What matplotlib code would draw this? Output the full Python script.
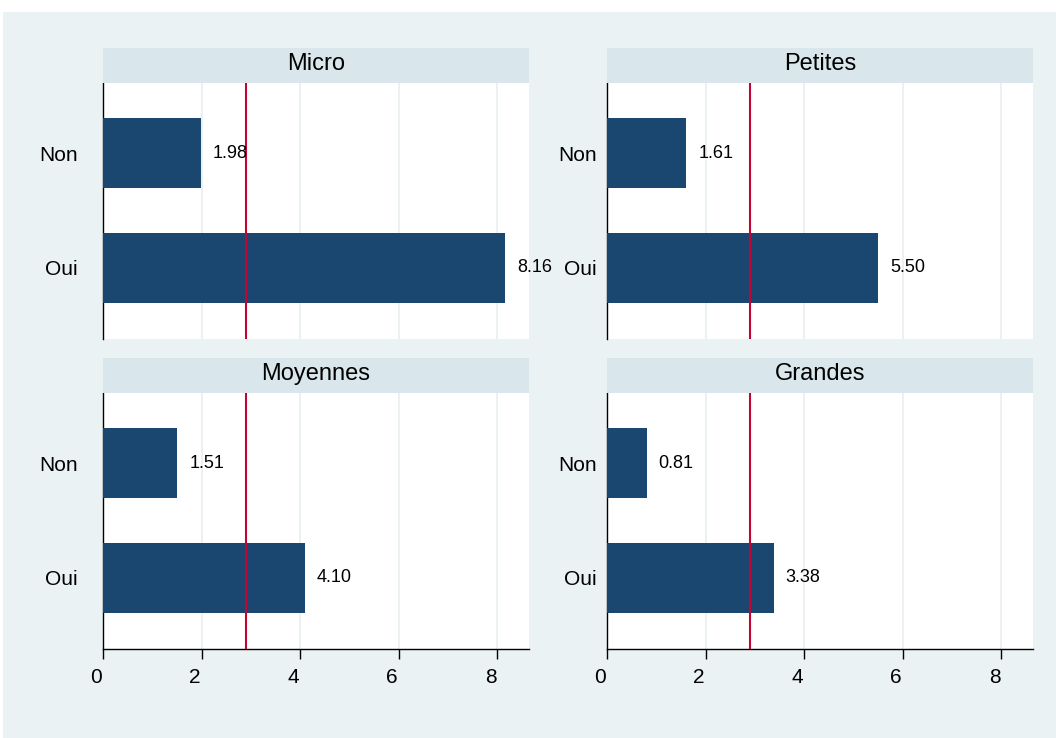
import matplotlib
matplotlib.use("Agg")
import matplotlib.pyplot as plt
from matplotlib.patches import Rectangle
from matplotlib.transforms import ScaledTranslation

plt.rcParams['font.family'] = ['Liberation Sans', 'DejaVu Sans']

panels = ["Micro", "Petites", "Moyennes", "Grandes"]
categories = ["Oui", "Non"]
values = {
    "Micro": [8.16, 1.98],
    "Petites": [5.50, 1.61],
    "Moyennes": [4.10, 1.51],
    "Grandes": [3.38, 0.81],
}
ref_line = 2.9
xticks = [0, 2, 4, 6, 8]

W, H = 1056, 738
fig = plt.figure(figsize=(W / 100, H / 100), dpi=100)
fig.patch.set_facecolor("white")
fig.add_artist(Rectangle((3 / W, 0), 1 - 3 / W, 1 - 12 / H, transform=fig.transFigure,
                         facecolor="#eaf2f3", edgecolor="none", zorder=0))

bar_color = "#1a476f"
red = "#c10534"
grid_color = "#e8eef1"
strip_color = "#d9e6eb"

cols = [(103, 529, 18), (607, 1033, 7.5)]
rows = [(83, 339, 48), (393, 649, 358)]

def box(x0, x1, y0, y1):
    return [x0 / W, 1 - y1 / H, (x1 - x0) / W, (y1 - y0) / H]

for i, name in enumerate(panels):
    r, c = divmod(i, 2)
    x0, x1, ypad = cols[c]
    ytop, ybot, stop = rows[r]
    ax = fig.add_axes(box(x0, x1, ytop, ybot))
    ax.set_facecolor("white")
    vals = values[name]
    ypos = list(range(len(categories)))
    ax.barh(ypos, vals, height=0.61, color=bar_color, zorder=3)
    ax.axvline(ref_line, color=red, lw=1.5, zorder=4)
    for g in xticks[1:]:
        ax.axvline(g, color=grid_color, lw=1.2, zorder=1)
    for y, v in zip(ypos, vals):
        ax.annotate(f"{v:.2f}", (v, y), xytext=(8.5, 0), textcoords="offset points",
                    va="center", ha="left", fontsize=13, zorder=5, annotation_clip=False)
    ax.set_xlim(0, 8.64)
    ax.set_ylim(-0.62, 1.61)
    ax.set_yticks(ypos)
    ax.set_yticklabels(categories, fontsize=15)
    ax.tick_params(axis="y", length=0, pad=ypad)
    for s in ["top", "right"]:
        ax.spines[s].set_visible(False)
    ax.spines["left"].set_color("black")
    ax.spines["left"].set_linewidth(1.0)
    if r == 1:
        ax.set_xticks(xticks)
        ax.set_xticklabels([str(t) for t in xticks], fontsize=15)
        ax.tick_params(axis="x", length=7, width=1, pad=6.5, color="black")
        ax.spines["bottom"].set_linewidth(1.0)
        off = ScaledTranslation(-5 / 72, 0, fig.dpi_scale_trans)
        for lbl in ax.get_xticklabels():
            lbl.set_transform(lbl.get_transform() + off)
    else:
        ax.set_xticks([])
        ax.spines["bottom"].set_visible(False)
    # strip
    sax = fig.add_axes(box(x0, x1, stop, ytop))
    sax.set_facecolor(strip_color)
    sax.set_xticks([]); sax.set_yticks([])
    for s in sax.spines.values():
        s.set_visible(False)
    sax.text(0.5, 0.54, name, ha="center", va="center", fontsize=17, transform=sax.transAxes)

fig.savefig("out.png", dpi=100)
